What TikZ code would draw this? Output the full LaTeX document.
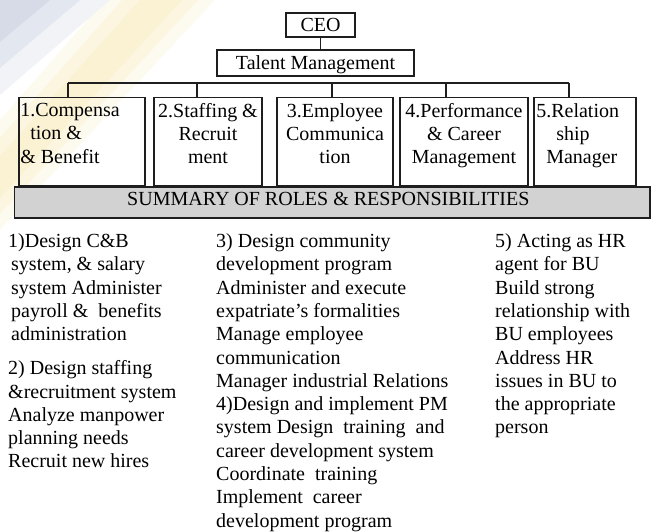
\documentclass[tikz,border=0pt]{standalone}
\usepackage{fontspec}
\setmainfont{Liberation Serif}
\usetikzlibrary{positioning}
\definecolor{barfill}{RGB}{210,210,210}
\definecolor{inkline}{RGB}{30,30,30}
\definecolor{swoosh}{RGB}{242,214,120}
\definecolor{corner}{RGB}{140,156,188}
\newcommand{\orgfont}{\fontsize{20}{23.3}\selectfont}

\begin{document}
\begin{tikzpicture}[x=1pt, y=-1pt, font=\orgfont,
    head/.style={draw=inkline, line width=1.8pt, inner sep=0pt},
    unit/.style={draw=inkline, line width=1.8pt, minimum height=88pt, inner sep=0pt},
    unit text/.style={inner sep=0pt, align=center},
    link/.style={draw=inkline, line width=1.5pt},
    duty/.style={anchor=north west, inner sep=0pt, align=left}]
    \useasboundingbox (0,0) rectangle (651,532);
    % slide background
    \fill[swoosh!12!white] (105,0) -- (215,0) -- (0,230) -- (0,120) -- cycle;
    \fill[swoosh!22!white] (122,0) -- (198,0) -- (0,214) -- (0,138) -- cycle;
    \fill[swoosh!32!white] (140,0) -- (182,0) -- (0,198) -- (0,156) -- cycle;
    \fill[corner!12!white] (0,0) -- (110,0) -- (0,95) -- cycle;
    \fill[corner!24!white] (0,0) -- (80,0) -- (0,68) -- cycle;
    \fill[corner!36!white] (0,0) -- (50,0) -- (0,42) -- cycle;
    \node[head, minimum width=69pt, minimum height=24pt] (ceo) at (320.5,25) {CEO};
    \node[head, minimum width=197pt, minimum height=26pt, text depth=0pt] (tm) at (315.5,63) {Talent Management};
    \node[unit, minimum width=126pt] (1) at (82,141.5) {};
    \node[unit, minimum width=108pt] (2) at (208,141.5) {};
    \node[unit, minimum width=116pt] (3) at (335,141.5) {};
    \node[unit, minimum width=128pt] (4) at (464,141.5) {};
    \node[unit, minimum width=102pt] (5) at (585,141.5) {};
    \node[unit text, align=left, below right=6.5pt and 2pt of 1.north west] (t1) {1.Compensa\\\hspace*{10pt}tion \&\\\& Benefit};
    \node[unit text, below=6.5pt of 2.north] (t2) {2.Staffing \&\\Recruit\\ment};
    \node[unit text, below=6.5pt of 3.north] (t3) {3.Employee\\Communica\\tion};
    \node[unit text, below=6.5pt of 4.north] (t4) {4.Performance\\\& Career\\Management};
    \node[unit text, align=left, below right=6.5pt and 3pt of 5.north west] (t5) {5.Relation\\\hspace*{20pt}ship\\\hspace*{10pt}Manager};
    \node[draw=inkline, fill=barfill, line width=1.8pt, minimum width=635.5pt, minimum height=31pt, inner sep=0pt] (sum) at (332.25,202.5) {};
    \node[anchor=base west, inner sep=0pt] (sumtext) at (127,206) {SUMMARY OF ROLES \& RESPONSIBILITIES};
    \coordinate (d1) at (68,83);
    \coordinate (d2) at (197,83);
    \coordinate (d3) at (332,83);
    \coordinate (d4) at (446,83);
    \coordinate (d5) at (569,83);
    \path[link] (ceo.south) edge (ceo.south |- tm.north)
        (d1) edge (d5)
        (d1) edge (d1 |- 1.north)
        (d2) edge (d2 |- 2.north)
        (d3) edge (d3 |- 3.north)
        (d4) edge (d4 |- 4.north)
        (d5) edge (d5 |- 5.north);
    \node[duty] (c1a) at (8,233.5) {1)Design C\&B\\\hspace*{3pt}system, \& salary\\\hspace*{3pt}system Administer\\\hspace*{3pt}payroll \&~ benefits\\\hspace*{3pt}administration};
    \node[duty] (c1b) at (8,360.5) {2) Design staffing\\\&recruitment system\\Analyze manpower\\planning needs\\Recruit new hires};
    \node[duty] (c2) at (216,233.5) {3) Design community\\development program\\Administer and execute\\expatriate’s formalities\\Manage employee\\communication\\Manager industrial Relations\\4)Design and implement PM\\system Design~ training~ and\\career development system\\Coordinate~ training\\Implement~ career\\development program};
    \node[duty] (c3) at (495,233.5) {5) Acting as HR\\agent for BU\\Build strong\\relationship with\\BU employees\\Address HR\\issues in BU to\\the appropriate\\person};
\end{tikzpicture}
\end{document}
